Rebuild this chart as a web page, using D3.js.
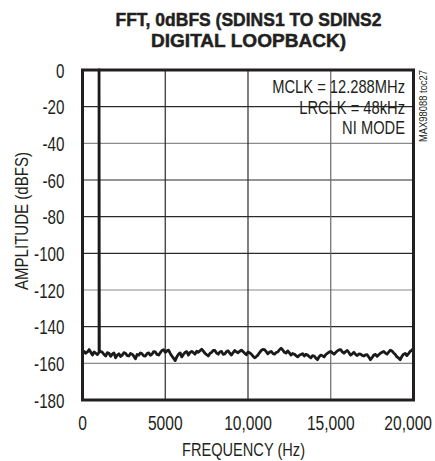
<!DOCTYPE html>
<html><head><meta charset="utf-8">
<script src="https://cdn.jsdelivr.net/npm/d3@7"></script>
<style>
html,body{margin:0;padding:0;background:#fff;}
svg text{font-family:'Liberation Sans','Arimo',Arial,sans-serif;fill:#231f20;}
</style></head><body>
<svg id="c" width="435" height="461"></svg>
<script>
const titleLines = ["FFT, 0dBFS (SDINS1 TO SDINS2", "DIGITAL LOOPBACK)"];
const xTicks = [0, 5000, 10000, 15000, 20000];
const xTickLabels = ["0", "5000", "10,000", "15,000", "20,000"];
const yTicks = [0, -20, -40, -60, -80, -100, -120, -140, -160, -180];
const xLabel = "FREQUENCY (Hz)";
const yLabel = "AMPLITUDE (dBFS)";
const notes = ["MCLK = 12.288MHz", "LRCLK = 48kHz", "NI MODE"];
const sideNote = "MAX98088 toc27";
// noise floor in dBFS, one value per 100 Hz bin from 0 to 20,000 Hz (the 1000 Hz tone bin is listed separately)
const noiseDb = [
 -155,-153.5,-154.5,-153.8,-152.5,-154,-155.5,-153.8,-154.5,-155.2,
 -153.5,-154,-155.2,-156,-154.2,-154.5,-156.2,-155,-154.3,-157,
 -155.5,-154.8,-156.3,-155.5,-154.2,-154.5,-155.8,-156,-154.6,-155,
 -156.1,-157.5,-155.2,-155.5,-154.3,-154.8,-155.9,-156,-154.7,-154.3,
 -155.6,-155,-153.6,-153.8,-155.1,-155.5,-154.2,-153,-152.6,-154,
 -153.2,-152.8,-154.6,-156,-157.2,-158.5,-156.4,-155,-154.3,-156.5,
 -155.1,-154,-153.6,-155.5,-154.1,-153.5,-154.2,-155,-153.4,-154,
 -153.1,-152.3,-153.4,-154.5,-155.3,-156,-154.6,-154,-152.9,-153,
 -154.4,-155,-153.8,-153.5,-155.1,-154.8,-153.6,-153.2,-154.5,-155.5,
 -154.1,-153,-153.7,-154.3,-153.4,-152.8,-153.6,-154.5,-155.3,-153.8,
 -154.2,-155,-156.1,-157,-156.3,-155.5,-154.1,-153,-152.4,-152.5,
 -153.6,-154.8,-153.9,-153.5,-154.6,-155,-154.1,-153.8,-152.6,-151.8,
 -152.7,-154,-154.4,-153.2,-154.3,-155.5,-154.6,-155,-155.8,-156.5,
 -155.6,-155.2,-154.7,-156,-155.1,-155.5,-156.3,-157,-155.8,-156,
 -157.2,-158,-156.4,-155.5,-155.9,-156.5,-155.2,-154.5,-153.9,-153.5,
 -154.3,-155,-154.1,-153.2,-152.7,-152.5,-153.8,-154.5,-153.6,-153,
 -154.2,-155.5,-154.8,-154,-155.1,-155.8,-154.9,-155,-155.7,-156,
 -155.4,-155.3,-156.6,-158,-156.8,-155.5,-155.1,-156.2,-155.3,-154.5,
 -154,-153.5,-154.4,-155,-153.9,-152.8,-153.3,-154.3,-155.2,-156.5,
 -157.1,-158,-156.2,-155,-154.6,-155.8,-154.7,-153.5,-152.8,-152
];
const toneFreq = [1000, 1000, 1010, 1020];
const toneDb = [-154, 0, -96, -153];

const svg = d3.select("#c");
const m = {l:82.5, r:413.5, t:70, b:400};
const x = d3.scaleLinear().domain([0,20000]).range([m.l, m.r]);
const y = d3.scaleLinear().domain([-180,0]).range([m.b, m.t]);

function fit(sel, w){ sel.attr("textLength", w).attr("lengthAdjust","spacingAndGlyphs"); }

// title
svg.append("g").selectAll("text").data(titleLines).join("text")
  .attr("x", 248.5).attr("y", (d,i)=> 25.5 + i*21)
  .attr("text-anchor","middle")
  .style("font-weight","bold").style("font-size","18.5px")
  .attr("stroke","#231f20").attr("stroke-width",0.5)
  .text(d=>d)
  .each(function(d,i){ fit(d3.select(this), i===0 ? 266 : 195); });

// grid
const g = svg.append("g");
g.selectAll("line.h").data(yTicks.filter(v=>v>-180 && v<0)).join("line")
  .attr("x1", m.l).attr("x2", m.r).attr("y1", d=>y(d)).attr("y2", d=>y(d))
  .attr("stroke", (d)=> (d===-40||d===-160||d===-120)? "#8a8a8a" : "#2a2a2a").attr("stroke-width",1.2);
g.selectAll("line.v").data(xTicks.filter(v=>v>0 && v<20000)).join("line")
  .attr("y1", m.t).attr("y2", m.b).attr("x1", d=>x(d)).attr("x2", d=>x(d))
  .attr("stroke", d=> d===15000 ? "#6a6a6a" : "#2a2a2a").attr("stroke-width",1.2);

// data
const binFreq = d3.range(0, 20001, 100).filter(f=>f!==1000);
const pts = binFreq.map((f,i)=>({f, v:noiseDb[i]}))
  .concat(toneFreq.map((f,i)=>({f, v:toneDb[i]})))
  .sort((a,b)=>a.f-b.f);
const line = d3.line().x(d=>x(d.f)).y(d=>y(d.v));
svg.append("path").datum(pts).attr("d", line)
  .attr("fill","none").attr("stroke","#1a1a1a").attr("stroke-width",2.8).attr("stroke-linejoin","round");

// frame
svg.append("rect").attr("x", m.l).attr("y", m.t).attr("width", m.r-m.l).attr("height", m.b-m.t)
  .attr("fill","none").attr("stroke","#231f20").attr("stroke-width",3);

// y tick labels (condensed by horizontal scale)
svg.append("g").selectAll("text").data(yTicks).join("text")
  .attr("transform", d=>`translate(64.5,${y(d)+7.5}) scale(0.78,1)`)
  .attr("text-anchor","end").style("font-size","19.5px")
  .text(d=> d===0 ? "0" : "-" + Math.abs(d));

// x tick labels
svg.append("g").selectAll("text").data(xTicks).join("text")
  .attr("transform", (d,i)=>`translate(${i===xTicks.length-1 ? 432 : x(d)},429.5) scale(0.8,1)`)
  .attr("text-anchor",(d,i)=> i===xTicks.length-1 ? "end" : "middle").style("font-size","19.5px")
  .text((d,i)=>xTickLabels[i]);

// axis titles
svg.append("text").attr("x", 243.5).attr("y", 456).attr("text-anchor","middle")
  .style("font-size","18px").text(xLabel).call(fit, 123);
svg.append("text").attr("transform","translate(28,221) rotate(-90)").attr("text-anchor","middle")
  .style("font-size","18px").text(yLabel).call(fit, 138);

// notes
svg.append("g").selectAll("text").data(notes).join("text")
  .attr("transform", (d,i)=>`translate(405,${93 + i*20.5}) scale(0.84,1)`).attr("text-anchor","end")
  .style("font-size","17.5px").text(d=>d);

svg.append("text").attr("transform","translate(427,106) rotate(-90)").attr("text-anchor","middle")
  .style("font-size","10px").text(sideNote).call(fit, 72);
</script>
</body></html>
